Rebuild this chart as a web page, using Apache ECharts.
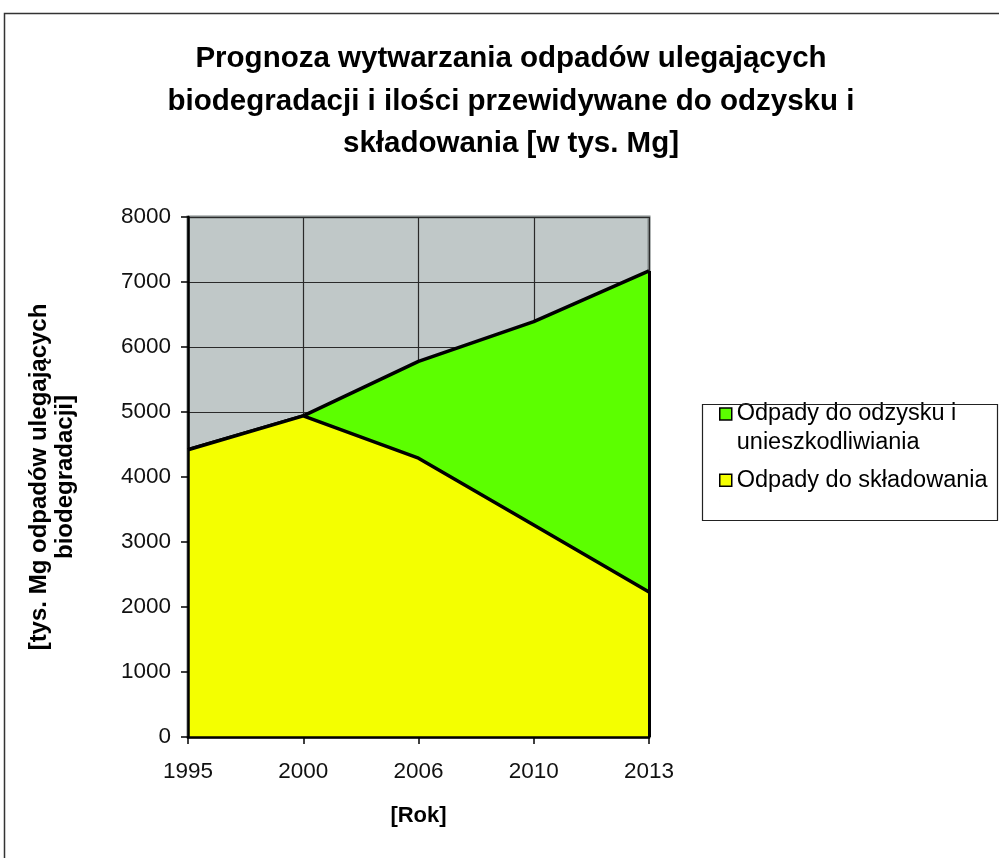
<!DOCTYPE html>
<html>
<head>
<meta charset="utf-8">
<script src="https://cdn.jsdelivr.net/npm/echarts@6/dist/echarts.min.js"></script>
<style>
  html, body { margin: 0; padding: 0; background: #fff; }
  #chart { width: 999px; height: 858px; }
</style>
</head>
<body>
<div id="chart"></div>
<script>
// Forecast of biodegradable waste [thousand Mg]
const years = ['1995', '2000', '2006', '2010', '2013'];
const landfill = [4420, 4940, 4290, 3260, 2230];   // Odpady do składowania
const recovery = [0, 0, 1490, 3130, 4940];         // Odpady do odzysku i unieszkodliwiania
const yTicks = { min: 0, max: 8000, interval: 1000 };

const nameRecovery = 'Odpady do odzysku i\nunieszkodliwiania';
const nameLandfill = 'Odpady do składowania';
const lastIdx = years.length - 1;
const lastTotal = landfill[lastIdx] + recovery[lastIdx];

const FONT = '"Liberation Sans", Arial, sans-serif';

// Legend swatches: 12px squares inside a 12x41 box so the square sits
// beside the first text line of each entry.
const swatchTop = 'path://M0,0H12V12H0ZM0,41L0.01,41';
const swatchMid = 'path://M0,0L0.01,0M0,14.5H12V26.5H0ZM0,41L0.01,41';

const gridAxisX = {
  type: 'category', data: years, boundaryGap: false, position: 'bottom',
  axisLine: { show: false }, axisTick: { show: false }, axisLabel: { show: false },
  splitLine: { show: true, lineStyle: { color: '#2a2a2a', width: 1.2 } },
  z: 0
};
const gridAxisY = {
  type: 'value', min: yTicks.min, max: yTicks.max, interval: yTicks.interval, position: 'left',
  axisLine: { show: false }, axisTick: { show: false }, axisLabel: { show: false },
  splitLine: { show: true, lineStyle: { color: '#2a2a2a', width: 1.2 } },
  z: 0
};

const chart = echarts.init(document.getElementById('chart'), null, { renderer: 'canvas' });

chart.setOption({
  animation: false,
  backgroundColor: '#ffffff',
  textStyle: { fontFamily: FONT, color: '#000' },
  title: {
    text: 'Prognoza wytwarzania odpadów ulegających\nbiodegradacji i ilości przewidywane do odzysku i\nskładowania [w tys. Mg]',
    left: 506,
    top: 33,
    textAlign: 'center',
    textStyle: {
      fontFamily: FONT,
      fontSize: 29.5,
      fontWeight: 'bold',
      lineHeight: 42.5,
      color: '#000'
    }
  },
  graphic: [
    {
      type: 'rect',
      shape: { x: 4.5, y: 13.5, width: 1100, height: 1000 },
      style: { fill: 'none', stroke: '#333', lineWidth: 1.5 },
      silent: true, z: 100
    },
    {
      type: 'rect',
      shape: { x: 702.5, y: 404.5, width: 295, height: 116 },
      style: { fill: 'none', stroke: '#222', lineWidth: 1.2 },
      silent: true, z: 100
    }
  ],
  legend: {
    orient: 'vertical',
    left: 719,
    top: 399.5,
    padding: 0,
    itemGap: 1.5,
    itemWidth: 12,
    itemHeight: 41,
    itemTextGap: 5,
    textStyle: { fontFamily: FONT, fontSize: 23.5, lineHeight: 29, color: '#000' },
    data: [
      { name: nameRecovery, icon: swatchTop,
        itemStyle: { borderColor: '#000', borderWidth: 1.5 } },
      { name: nameLandfill, icon: swatchMid,
        itemStyle: { borderColor: '#000', borderWidth: 1.5 } }
    ]
  },
  grid: {
    left: 188,
    right: 350,
    top: 217,
    bottom: 121,
    show: true,
    backgroundColor: '#c0c8c8',
    borderColor: '#7f8585',
    borderWidth: 3
  },
  xAxis: [
    gridAxisX,
    {
      type: 'category',
      data: years,
      boundaryGap: false,
      position: 'bottom',
      name: '[Rok]',
      nameLocation: 'middle',
      nameGap: 68,
      nameTextStyle: { fontFamily: FONT, fontSize: 22, fontWeight: 'bold', color: '#000' },
      axisLine: { show: true, lineStyle: { color: '#000', width: 2.5 } },
      axisTick: { show: true, inside: false, length: 7, alignWithLabel: true, lineStyle: { color: '#000', width: 1.5 } },
      axisLabel: { margin: 23, fontFamily: FONT, fontSize: 22.5, color: '#111' },
      splitLine: { show: false },
      z: 10
    }
  ],
  yAxis: [
    gridAxisY,
    {
      type: 'value',
      min: yTicks.min,
      max: yTicks.max,
      interval: yTicks.interval,
      position: 'left',
      name: '[tys. Mg odpadów ulegających\nbiodegradacji]',
      nameLocation: 'middle',
      nameGap: 110,
      nameRotate: 90,
      nameTextStyle: { fontFamily: FONT, fontSize: 24, fontWeight: 'bold', lineHeight: 26, color: '#000' },
      axisLine: { show: true, lineStyle: { color: '#000', width: 2.5 } },
      axisTick: { show: true, inside: false, length: 7, lineStyle: { color: '#000', width: 1.5 } },
      axisLabel: { margin: 17, fontFamily: FONT, fontSize: 22.5, color: '#111', formatter: v => String(v) },
      splitLine: { show: false },
      z: 10
    }
  ],
  series: [
    {
      name: nameLandfill,
      type: 'line',
      stack: 'total',
      xAxisIndex: 0,
      yAxisIndex: 0,
      data: landfill,
      symbol: 'none',
      color: '#f4ff00',
      lineStyle: { color: '#000', width: 3.5 },
      areaStyle: { color: '#f4ff00', opacity: 1 },
      z: 3
    },
    {
      name: nameRecovery,
      type: 'line',
      stack: 'total',
      xAxisIndex: 0,
      yAxisIndex: 0,
      data: recovery,
      symbol: 'none',
      color: '#5cff00',
      lineStyle: { color: '#000', width: 3.5 },
      areaStyle: { color: '#5cff00', opacity: 1 },
      z: 2,
      markLine: {
        silent: true,
        symbol: 'none',
        label: { show: false },
        lineStyle: { color: '#000', width: 3, type: 'solid' },
        data: [[{ coord: [years[lastIdx], 0] }, { coord: [years[lastIdx], lastTotal] }]]
      }
    }
  ]
});
</script>
</body>
</html>
